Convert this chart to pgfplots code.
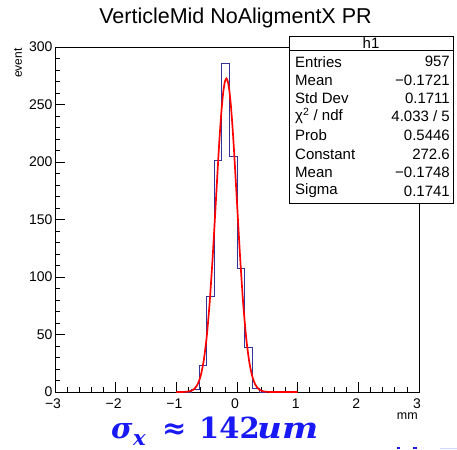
\documentclass[border=0pt]{standalone}
\usepackage{fontspec}
\setmainfont{Liberation Sans}
\newfontfamily\sigfont{DejaVu Serif}
\usepackage{pgfplots}
\pgfplotsset{compat=1.18}
\definecolor{histblue}{rgb}{0.2,0.2,0.6}
\definecolor{sigblue}{RGB}{25,25,245}
\definecolor{lightbl}{RGB}{205,215,255}
\begin{document}
\begin{tikzpicture}
\useasboundingbox (0pt,0pt) rectangle (457pt,449pt);
\begin{axis}[
  at={(55pt,57pt)}, anchor=south west,
  width=364pt, height=345pt, scale only axis,
  xmin=-3, xmax=3, ymin=0, ymax=300,
  axis line style={line width=0.8pt},
  tick style={black, line width=0.7pt},
  tick align=inside,
  xtick pos=bottom, ytick pos=left,
  xtick={-3,-2,-1,0,1,2,3},
  xticklabels={−3,−2,−1,0,1,2,3},
  ytick={0,50,100,150,200,250,300},
  yticklabels={0,50,100,150,200,250,300},
  minor x tick num=4, minor y tick num=4,
  major tick length=10pt, minor tick length=5pt,
  ticklabel style={font=\fontsize{14}{14}\selectfont},
  xticklabel style={yshift=-3.5pt, xshift=-2pt},
  yticklabel style={xshift=1pt},
  clip=false,
]
\addplot[const plot mark left, color=histblue, line width=0.9pt] coordinates {
(-0.875,0) (-0.75,2) (-0.625,23) (-0.5,83) (-0.375,201) (-0.25,286)
(-0.125,205) (0,107) (0.125,39) (0.25,3) (0.375,0) (0.5,0)
};
\addplot[red, line width=1.7pt, smooth, tension=0.4] coordinates {
(-1.0,0.004) (-0.95,0.014) (-0.9,0.047) (-0.85,0.148) (-0.8,0.432)
(-0.75,1.16) (-0.7,2.88) (-0.65,6.57) (-0.6,13.81) (-0.55,26.73)
(-0.5,47.6) (-0.45,78.2) (-0.4,118.1) (-0.35,164.3) (-0.3,210.5)
(-0.275,231.0) (-0.25,248.3) (-0.225,261.5) (-0.2,269.8) (-0.1748,272.6)
(-0.15,269.8) (-0.125,261.7) (-0.1,248.6) (-0.075,231.3) (-0.05,210.8)
(0,164.7) (0.05,118.4) (0.1,78.4) (0.15,47.8) (0.2,26.9) (0.25,13.9)
(0.3,6.62) (0.35,2.90) (0.4,1.17) (0.45,0.436) (0.5,0.149) (0.55,0.047)
(0.6,0.014) (0.65,0.004) (0.7,0.001) (0.8,0) (0.9,0) (1.0,0)
};
\end{axis}
% title
\node[font=\fontsize{21.5}{21.5}\selectfont] at (235.5pt,431.5pt) {VerticleMid NoAligmentX PR};
% y label
\node[font=\fontsize{12}{12}\selectfont, rotate=90, anchor=east] at (18pt,404pt) {event};
% x label
\node[font=\fontsize{12.5}{12.5}\selectfont, anchor=east, inner sep=0pt] at (418pt,32.5pt) {mm};
% stats box
\draw[line width=0.8pt, fill=white] (289pt,246pt) rectangle (453pt,413pt);
\draw[line width=0.8pt] (289pt,398.5pt) -- (453pt,398.5pt);
\node[font=\fontsize{15}{15}\selectfont] at (371pt,405.5pt) {h1};
\begin{scope}[every node/.style={font=\fontsize{15}{15}\selectfont, inner sep=0pt}]
\node[anchor=west] at (295pt,387.3pt) {Entries};
\node[anchor=west] at (295pt,369pt) {Mean};
\node[anchor=west] at (295pt,351pt) {Std Dev};
\node[anchor=west] at (295pt,333pt) {χ\textsuperscript{2} / ndf};
\node[anchor=west] at (295pt,314pt) {Prob};
\node[anchor=west] at (295pt,295pt) {Constant};
\node[anchor=west] at (295pt,276.3pt) {Mean};
\node[anchor=west] at (295pt,258pt) {Sigma};
\node[anchor=east] at (450pt,387.3pt) {957};
\node[anchor=east] at (450pt,369pt) {−0.1721};
\node[anchor=east] at (450pt,351pt) {0.1711};
\node[anchor=east] at (450pt,333pt) {4.033 / 5};
\node[anchor=east] at (450pt,314pt) {0.5446};
\node[anchor=east] at (450pt,295pt) {272.6};
\node[anchor=east] at (450pt,276.3pt) {−0.1748};
\node[anchor=east] at (450pt,258pt) {0.1741};
\end{scope}
% bottom annotation
\begin{scope}[every node/.style={text=sigblue, inner sep=0pt, anchor=base west}]
\node[font=\fontsize{29}{29}\selectfont\sigfont\bfseries\itshape] at (111pt,10.7pt) {σ};
\node[font=\fontsize{21}{21}\selectfont\sigfont\bfseries\itshape] at (133pt,3.5pt) {x};
\node[font=\fontsize{29}{29}\selectfont\sigfont\bfseries] at (162pt,10.7pt) {≈};
\node[font=\fontsize{29}{29}\selectfont\sigfont\bfseries] at (199pt,10.7pt) {142};
\node[font=\fontsize{29}{29}\selectfont\sigfont\bfseries\itshape, xscale=1.18] at (257pt,10.7pt) {um};
\end{scope}
% cropped remnants at bottom right
\fill[sigblue] (397pt,0pt) rectangle (400pt,2pt);
\fill[sigblue] (413pt,0pt) rectangle (417pt,2pt);
\fill[lightbl] (440pt,0pt) rectangle (457pt,1.5pt);
\end{tikzpicture}
\end{document}
